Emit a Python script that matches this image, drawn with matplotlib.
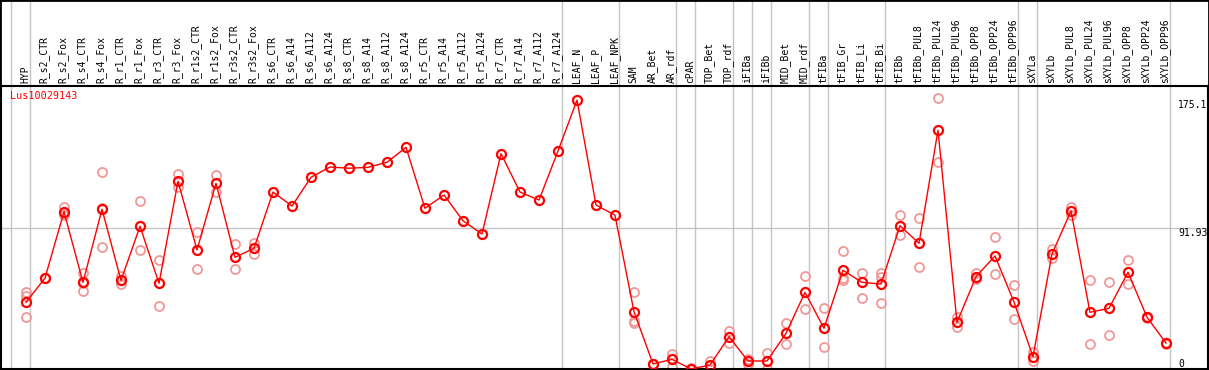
import matplotlib.pyplot as plt
from matplotlib.patches import Rectangle
from matplotlib.transforms import blended_transform_factory

# sample columns
samples = ["HYP", "R_s2_CTR", "R_s2_Fox", "R_s4_CTR", "R_s4_Fox", "R_r1_CTR", "R_r1_Fox",
           "R_r3_CTR", "R_r3_Fox", "R_r1s2_CTR", "R_r1s2_Fox", "R_r3s2_CTR", "R_r3s2_Fox",
           "R_s6_CTR", "R_s6_A14", "R_s6_A112", "R_s6_A124", "R_s8_CTR", "R_s8_A14",
           "R_s8_A112", "R_s8_A124", "R_r5_CTR", "R_r5_A14", "R_r5_A112", "R_r5_A124",
           "R_r7_CTR", "R_r7_A14", "R_r7_A112", "R_r7_A124", "LEAF_N", "LEAF_P", "LEAF_NPK",
           "SAM", "AR_Bet", "AR_rdf", "cPAR", "TOP_Bet", "TOP_rdf", "iFIBa", "iFIBb",
           "MID_Bet", "MID_rdf", "tFIBa", "tFIB_Gr", "tFIB_Li", "tFIB_Bi", "tFIBb",
           "tFIBb_PUL8", "tFIBb_PUL24", "tFIBb_PUL96", "tFIBb_OPP8", "tFIBb_OPP24",
           "tFIBb_OPP96", "sXYLa", "sXYLb", "sXYLb_PUL8", "sXYLb_PUL24", "sXYLb_PUL96",
           "sXYLb_OPP8", "sXYLb_OPP24", "sXYLb_OPP96"]

# mean expression per sample
means = [43.4, 59.2, 102.4, 56.4, 104.0, 57.7, 92.9, 55.8, 122.2, 77.5, 120.9, 72.7, 78.6,
         115.2, 106.1, 124.8, 131.5, 130.7, 131.3, 134.6, 144.3, 104.6, 113.3, 96.5, 87.9,
         140.2, 115.2, 110.0, 141.9, 175.1, 106.8, 100.1,
         37.3, 3.3, 6.3, 0.0, 2.6, 21.0, 5.2, 5.2, 23.2, 49.9, 26.5, 64.3, 56.4, 55.3,
         93.3, 81.8, 155.4, 30.4, 60.1, 73.6, 43.6, 8.0, 74.9, 102.9, 36.9, 39.5, 63.0,
         33.7, 16.9]

# replicate values
reps = [[49.9, 47.5, 33.7], [59.0, 59.5], [105.7, 100.3, 101.0], [62.3, 50.6, 56.0],
        [128.1, 79.2, 104.7], [60.5, 55.3], [109.4, 77.5], [71.0, 41.0], [127.0, 118.7],
        [89.0, 65.1], [126.3, 115.4], [81.2, 65.1], [81.8, 74.7],
        [], [], [], [], [], [], [], [], [], [], [], [], [], [], [], [], [], [], [],
        [50.0, 29.8, 31.0], [3.0, 3.5], [9.9, 1.3], [0.0, 0.5], [5.4, 2.0],
        [24.7, 17.1], [6.7, 3.3], [10.6, 0.0], [29.8, 16.1], [60.5, 39.1], [39.5, 14.1],
        [76.6, 57.9, 59.0], [62.3, 46.0], [62.7, 59.7, 42.8], [100.1, 87.0], [98.1, 66.2],
        [176.2, 134.6], [33.7, 27.5], [62.3, 58.6], [85.9, 61.7], [54.7, 32.6],
        [11.3, 5.2], [78.1, 72.1], [105.5, 100.3], [57.7, 16.1], [56.4, 21.9],
        [70.8, 55.3], [33.7, 33.0], [16.9, 16.5]]

# groups end after these sample indices
group_ends = [-1, 0, 28, 31, 34, 35, 37, 38, 39, 41, 42, 45, 52, 53, 60]
ytick_vals = [175.1, 91.93, 0]
ytick_labels = ["175.1", "91.93", "0"]
gene = "Lus10029143"

W, H = 1209, 370
fig = plt.figure(figsize=(W / 100, H / 100), dpi=100)
ax = fig.add_axes([1 / W, 1 / H, 1207 / W, 283 / H])

x0, dx = 26, 19       # pixel of first sample, pixel spacing
y0, k = 369, 1.536    # pixel of zero, pixels per unit
ax.set_xlim((1 - x0) / dx, (1208 - x0) / dx)
ax.set_ylim((y0 - 369) / k, (y0 - 86) / k)
ax.set_xticks([])
ax.set_yticks([])
for s in ax.spines.values():
    s.set_color("black")
    s.set_linewidth(1.5)

grey = "#c4c4c4"
ax.axhline(91.93, color=grey, lw=1, zorder=0)
for g in group_ends:
    ax.axvline(g + 4 / dx, ymin=0, ymax=369 / 283, color=grey, lw=1, clip_on=False, zorder=0)

# replicates
for i, r in enumerate(reps):
    ax.plot([i] * len(r), r, "o", ms=6.5, mfc="none", mec="#f09898", mew=1.3,
            linestyle="none", zorder=2)

# mean line
ax.plot(range(len(means)), means, "-", color="red", lw=1, zorder=3)
ax.plot(range(len(means)), means, "o", ms=6.5, mfc="none", mec="red", mew=1.6, zorder=4)

mono = "DejaVu Sans Mono"
trans = blended_transform_factory(ax.transData, ax.transAxes)
for i, name in enumerate(samples):
    ax.text(i - 0.05, 1 + 3 / 283, name, transform=trans, rotation=90, ha="center",
            va="bottom", family=mono, fontsize=7)

xlab = (1178 - x0) / dx
for v, lab in zip(ytick_vals, ytick_labels):
    ax.text(xlab, v, lab, ha="left", va="bottom" if v == 0 else "top", family=mono,
            fontsize=7, color="black")

ax.text(9 / 1207, 1 - 5 / 283, gene, transform=ax.transAxes, ha="left", va="top",
        family=mono, fontsize=7.3, color="red")

fig.patches.append(Rectangle((0, 0), 1, 1, transform=fig.transFigure, fill=False,
                             ec="black", lw=2))

fig.savefig("out.png", dpi=100)
